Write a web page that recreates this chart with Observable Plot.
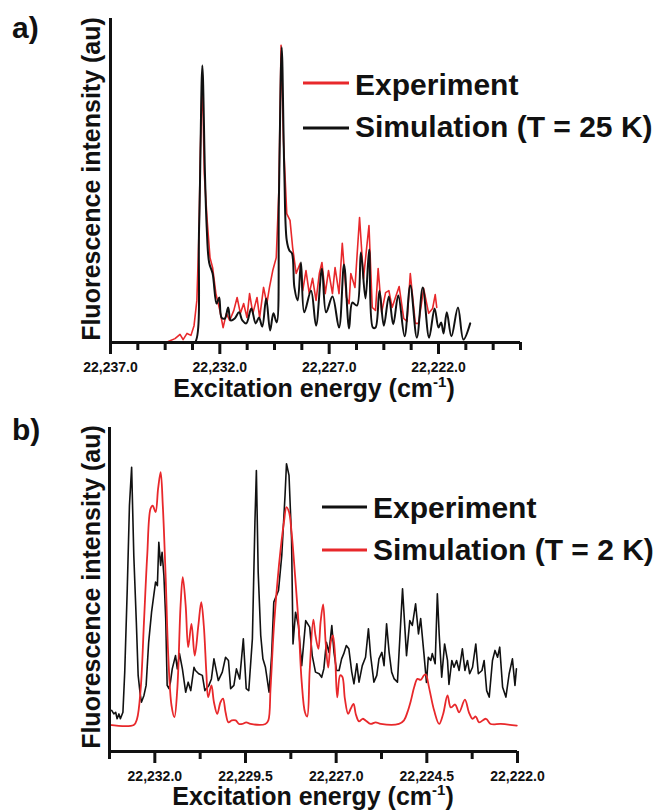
<!DOCTYPE html>
<html><head><meta charset="utf-8">
<script src="https://cdn.jsdelivr.net/npm/d3@7"></script>
<script src="https://cdn.jsdelivr.net/npm/@observablehq/plot@0.6"></script>
<style>
html,body{margin:0;padding:0;background:#fff;}
#chart{width:657px;height:812px;position:relative;overflow:hidden;}
#chart svg{display:block;}
#chart g[aria-label="x-axis tick label"]{font-weight:bold;font-size:14px;}
</style></head><body><div id="chart"></div>
<script>
// ---------- texts ----------
const yTitle = "Fluorescence intensity (au)";
const xTitleMain = "Excitation energy (cm";
const xTitleSup = "-1";
const aLegendLabels = ["Experiment", "Simulation (T = 25 K)"];
const bLegendLabels = ["Experiment", "Simulation (T = 2 K)"];

// ---------- axes ----------
const aDomain = [22237.0, 22218.25];
const aMajorTicks = [22237.0, 22232.0, 22227.0, 22222.0];
const aMinorTicks = [22235.75, 22234.5, 22233.25, 22230.75, 22229.5, 22228.25, 22225.75, 22224.5, 22223.25, 22220.75, 22219.5, 22218.25];
const bDomain = [22233.25, 22222.0];
const bMajorTicks = [22232.0, 22229.5, 22227.0, 22224.5, 22222.0];
const bMinorTicks = [22233.25, 22230.75, 22228.25, 22225.75, 22223.25];

// ---------- panel a: simulation (T = 25 K) ----------
const aSimEnergy = [
22233.36,22233.14,22232.95,22232.80,22232.68,22232.60,22232.49,22232.33,22232.15,22232.03,
22231.92,22231.77,22231.62,22231.50,22231.32,22231.12,22230.97,22230.79,22230.56,22230.36,
22230.21,22230.06,22229.88,22229.70,22229.55,22229.40,22229.30,22229.17,22229.05,22228.94,
22228.82,22228.70,22228.59,22228.44,22228.29,22228.14,22227.83,22227.60,22227.33,22227.14,
22226.85,22226.55,22226.32,22226.09,22225.94,22225.73,22225.55,22225.34,22225.17,22225.00,
22224.88,22224.70,22224.50,22224.27,22224.07,22223.84,22223.55,22223.29,22222.99,22222.72,
22222.43,22222.18,22222.00,22221.88,22221.77,22221.62,22221.41,22221.11,22220.86,22220.55];
const aSimIntensity = [
0.000,0.000,0.350,0.855,0.520,0.355,0.247,0.213,0.120,0.139,
0.077,0.074,0.108,0.068,0.074,0.093,0.068,0.059,0.105,0.059,
0.077,0.049,0.136,0.037,0.090,0.062,0.438,0.911,0.520,0.315,
0.284,0.275,0.170,0.130,0.247,0.093,0.160,0.052,0.228,0.093,
0.142,0.046,0.241,0.043,0.123,0.114,0.278,0.136,0.287,0.046,
0.046,0.160,0.052,0.142,0.056,0.145,0.019,0.176,0.015,0.170,
0.015,0.105,0.046,0.062,0.028,0.093,0.019,0.108,0.009,0.059];

// ---------- panel a: experiment ----------
const aExpEnergy = [
22234.36,22234.05,22233.82,22233.68,22233.50,22233.32,22233.18,22233.05,22232.95,22232.89,
22232.80,22232.71,22232.58,22232.45,22232.33,22232.18,22232.00,22231.85,22231.70,22231.55,
22231.36,22231.21,22231.06,22230.91,22230.76,22230.64,22230.49,22230.30,22230.18,22230.00,
22229.85,22229.73,22229.58,22229.42,22229.30,22229.20,22229.09,22228.94,22228.79,22228.67,
22228.51,22228.33,22228.21,22228.06,22227.91,22227.76,22227.60,22227.45,22227.33,22227.18,
22227.03,22226.85,22226.73,22226.55,22226.40,22226.21,22226.09,22226.01,22225.82,22225.61,
22225.43,22225.18,22225.03,22224.88,22224.76,22224.60,22224.42,22224.27,22224.12,22223.97,
22223.80,22223.59,22223.44,22223.29,22223.06,22222.91,22222.68,22222.45,22222.27,22222.15,
22222.08];
const aExpIntensity = [
0.003,0.012,0.025,0.009,0.028,0.022,0.052,0.130,0.346,0.593,
0.824,0.520,0.377,0.262,0.231,0.151,0.099,0.046,0.090,0.068,
0.099,0.139,0.090,0.120,0.077,0.151,0.090,0.139,0.077,0.170,
0.120,0.170,0.222,0.262,0.469,0.917,0.623,0.398,0.377,0.293,
0.213,0.244,0.160,0.222,0.151,0.198,0.130,0.213,0.247,0.151,
0.222,0.151,0.231,0.151,0.306,0.139,0.120,0.213,0.170,0.386,
0.198,0.361,0.108,0.099,0.228,0.093,0.154,0.160,0.108,0.139,
0.173,0.074,0.065,0.213,0.059,0.059,0.167,0.090,0.105,0.148,
0.108];

// ---------- panel b: experiment ----------
const bExpEnergy = [
22233.19,22233.13,22233.08,22233.04,22232.99,22232.95,22232.88,22232.83,22232.76,22232.70,
22232.64,22232.58,22232.51,22232.46,22232.41,22232.37,22232.30,22232.24,22232.17,22232.09,
22232.03,22231.98,22231.93,22231.89,22231.84,22231.80,22231.75,22231.70,22231.66,22231.61,
22231.57,22231.52,22231.43,22231.38,22231.32,22231.24,22231.15,22231.08,22231.01,22230.92,
22230.88,22230.79,22230.69,22230.62,22230.51,22230.44,22230.37,22230.25,22230.14,22230.05,
22229.97,22229.91,22229.82,22229.75,22229.66,22229.56,22229.48,22229.41,22229.31,22229.24,
22229.20,22229.15,22229.08,22229.02,22228.95,22228.85,22228.78,22228.72,22228.59,22228.50,
22228.41,22228.37,22228.30,22228.23,22228.19,22228.12,22228.04,22227.95,22227.84,22227.73,
22227.66,22227.57,22227.47,22227.40,22227.34,22227.27,22227.20,22227.12,22227.06,22226.99,
22226.92,22226.85,22226.79,22226.72,22226.65,22226.57,22226.51,22226.43,22226.37,22226.28,
22226.19,22226.11,22226.05,22225.96,22225.88,22225.82,22225.74,22225.68,22225.61,22225.54,
22225.47,22225.40,22225.31,22225.24,22225.17,22225.06,22224.97,22224.90,22224.81,22224.73,
22224.67,22224.58,22224.51,22224.46,22224.39,22224.35,22224.27,22224.21,22224.16,22224.09,
22224.01,22223.93,22223.89,22223.81,22223.75,22223.68,22223.61,22223.52,22223.45,22223.38,
22223.32,22223.24,22223.15,22223.08,22222.98,22222.92,22222.85,22222.78,22222.69,22222.62,
22222.55,22222.49,22222.41,22222.32,22222.23,22222.14,22222.07,22222.03];
const bExpIntensity = [
0.127,0.116,0.121,0.101,0.116,0.101,0.121,0.245,0.503,0.759,
0.877,0.605,0.399,0.235,0.183,0.152,0.173,0.204,0.337,0.430,
0.481,0.523,0.512,0.646,0.574,0.615,0.543,0.410,0.204,0.194,
0.214,0.255,0.296,0.255,0.302,0.255,0.183,0.214,0.188,0.260,
0.250,0.240,0.235,0.188,0.204,0.224,0.286,0.219,0.245,0.291,
0.281,0.194,0.204,0.255,0.224,0.348,0.194,0.188,0.348,0.708,
0.867,0.553,0.358,0.286,0.260,0.183,0.296,0.461,0.497,0.605,
0.790,0.888,0.852,0.656,0.332,0.430,0.389,0.265,0.404,0.384,
0.296,0.245,0.240,0.229,0.255,0.337,0.306,0.389,0.306,0.250,
0.250,0.286,0.302,0.327,0.317,0.245,0.209,0.271,0.214,0.265,
0.291,0.379,0.296,0.214,0.235,0.286,0.306,0.265,0.394,0.306,
0.245,0.224,0.214,0.358,0.502,0.296,0.404,0.389,0.456,0.363,
0.410,0.302,0.213,0.291,0.281,0.302,0.271,0.487,0.363,0.229,
0.332,0.281,0.207,0.281,0.260,0.281,0.250,0.317,0.250,0.281,
0.240,0.260,0.332,0.240,0.250,0.281,0.188,0.168,0.281,0.312,
0.291,0.322,0.198,0.168,0.240,0.286,0.204,0.255];

// ---------- panel b: simulation (T = 2 K) ----------
const bSimEnergy = [
22233.25,22232.58,22232.49,22232.39,22232.30,22232.21,22232.12,22232.06,22231.98,22231.91,
22231.84,22231.78,22231.70,22231.63,22231.54,22231.46,22231.38,22231.29,22231.23,22231.15,
22231.08,22230.99,22230.90,22230.80,22230.72,22230.65,22230.58,22230.53,22230.44,22230.37,
22230.28,22230.19,22230.12,22230.05,22229.97,22229.88,22229.77,22229.68,22229.59,22229.48,
22229.36,22228.95,22228.87,22228.81,22228.72,22228.62,22228.53,22228.44,22228.37,22228.30,
22228.23,22228.14,22228.04,22227.95,22227.86,22227.80,22227.73,22227.63,22227.57,22227.49,
22227.43,22227.36,22227.29,22227.22,22227.15,22227.09,22227.03,22226.97,22226.89,22226.83,
22226.76,22226.67,22226.60,22226.52,22226.46,22226.37,22226.27,22226.19,22226.05,22225.91,
22225.77,22225.27,22225.13,22225.03,22224.94,22224.85,22224.76,22224.67,22224.58,22224.53,
22224.44,22224.30,22224.16,22224.05,22223.93,22223.84,22223.72,22223.61,22223.45,22223.34,
22223.24,22223.15,22223.06,22222.87,22222.74,22222.46,22222.02];
const bSimIntensity = [
0.082,0.082,0.101,0.194,0.399,0.605,0.749,0.759,0.739,0.811,
0.862,0.759,0.533,0.296,0.142,0.106,0.194,0.451,0.538,0.451,
0.322,0.394,0.296,0.389,0.461,0.389,0.245,0.168,0.204,0.152,
0.116,0.152,0.163,0.121,0.090,0.096,0.096,0.085,0.085,0.090,
0.085,0.085,0.096,0.194,0.379,0.523,0.626,0.708,0.754,0.739,
0.677,0.553,0.399,0.214,0.121,0.108,0.250,0.407,0.358,0.317,
0.399,0.454,0.337,0.259,0.337,0.358,0.296,0.167,0.235,0.231,
0.163,0.116,0.132,0.147,0.116,0.093,0.101,0.096,0.085,0.090,
0.085,0.085,0.096,0.123,0.157,0.198,0.224,0.221,0.235,0.238,
0.198,0.127,0.085,0.116,0.173,0.136,0.145,0.121,0.160,0.121,
0.101,0.108,0.090,0.101,0.085,0.085,0.080];

// ---------- drawing ----------
const FONT = "'Liberation Sans', Arial, Helvetica, sans-serif";
const RED = "#e8282b", BLACK = "#111111";
const rows = (xs, ys) => xs.map((e, i) => ({e, v: ys[i]}));

function panel(cfg) {
  const svg = Plot.plot({
    width: 657, height: cfg.height,
    marginTop: cfg.mt, marginBottom: cfg.mb, marginLeft: cfg.ml, marginRight: cfg.mr,
    style: {fontFamily: FONT, background: "#fff", overflow: "visible"},
    x: {domain: cfg.domain},
    y: {domain: [0, 1], axis: null},
    marks: [
      ...cfg.series.map(s => Plot.line(rows(s.x, s.y), {x: "e", y: "v", stroke: s.color, strokeWidth: s.width, curve: s.curve, strokeLinejoin: "round"})),
      Plot.ruleX([cfg.domain[0]], {stroke: BLACK, strokeWidth: 3}),
      Plot.ruleY([0], {stroke: BLACK, strokeWidth: 3}),
      Plot.axisX({ticks: cfg.minor, tickSize: 8, fill: "none", label: null, stroke: BLACK, strokeWidth: 3}),
      Plot.axisX({ticks: cfg.major, tickSize: 12, tickPadding: 8, tickFormat: d3.format(",.1f"), label: null,
                  stroke: BLACK, strokeWidth: 3, fill: BLACK, fontSize: 14, fontWeight: "bold"})
    ]
  });
  const g = d3.select(svg).append("g").attr("font-family", FONT).attr("fill", BLACK)
    .attr("font-weight", "bold").attr("text-anchor", "start");
  g.append("text").attr("x", 12).attr("y", cfg.letterY).attr("font-size", 30).text(cfg.letter);
  g.append("text").attr("transform", `translate(100,${cfg.yTitleY}) rotate(-90)`)
    .attr("text-anchor", "middle").attr("font-size", 25).text(yTitle);
  const xt = g.append("text").attr("x", cfg.xTitleX).attr("y", cfg.xTitleY)
    .attr("text-anchor", "middle").attr("font-size", 25);
  xt.append("tspan").text(xTitleMain);
  xt.append("tspan").attr("font-size", 15).attr("dy", -10).text(xTitleSup);
  xt.append("tspan").attr("dy", 10).text(")");
  cfg.legend.forEach(L => {
    g.append("line").attr("x1", L.x1).attr("x2", L.x2).attr("y1", L.y).attr("y2", L.y)
      .attr("stroke", L.color).attr("stroke-width", 3);
    g.append("text").attr("x", L.tx).attr("y", L.ty).attr("text-anchor", "start")
      .attr("font-size", 30).text(L.label);
  });
  return svg;
}

const chart = document.getElementById("chart");
chart.append(panel({
  height: 405, mt: 18, mb: 63, ml: 110, mr: 137,
  domain: aDomain, major: aMajorTicks, minor: aMinorTicks,
  series: [
    {x: aExpEnergy, y: aExpIntensity, color: RED, width: 1.6, curve: "linear"},
    {x: aSimEnergy, y: aSimIntensity, color: BLACK, width: 2, curve: "catmull-rom"}
  ],
  letter: "a)", letterY: 38, yTitleY: 179, xTitleX: 314, xTitleY: 397,
  legend: [
    {x1: 303, x2: 349, y: 83, tx: 355, ty: 95, color: RED, label: aLegendLabels[0]},
    {x1: 303, x2: 349, y: 128, tx: 355, ty: 137, color: BLACK, label: aLegendLabels[1]}
  ]
}));
chart.append(panel({
  height: 407, mt: 22, mb: 61, ml: 109, mr: 140,
  domain: bDomain, major: bMajorTicks, minor: bMinorTicks,
  series: [
    {x: bExpEnergy, y: bExpIntensity, color: BLACK, width: 1.6, curve: "linear"},
    {x: bSimEnergy, y: bSimIntensity, color: RED, width: 1.8, curve: "catmull-rom"}
  ],
  letter: "b)", letterY: 35, yTitleY: 182, xTitleX: 313, xTitleY: 400,
  legend: [
    {x1: 322, x2: 367, y: 102, tx: 373, ty: 113, color: BLACK, label: bLegendLabels[0]},
    {x1: 322, x2: 367, y: 145, tx: 373, ty: 155, color: RED, label: bLegendLabels[1]}
  ]
}));
</script></body></html>
